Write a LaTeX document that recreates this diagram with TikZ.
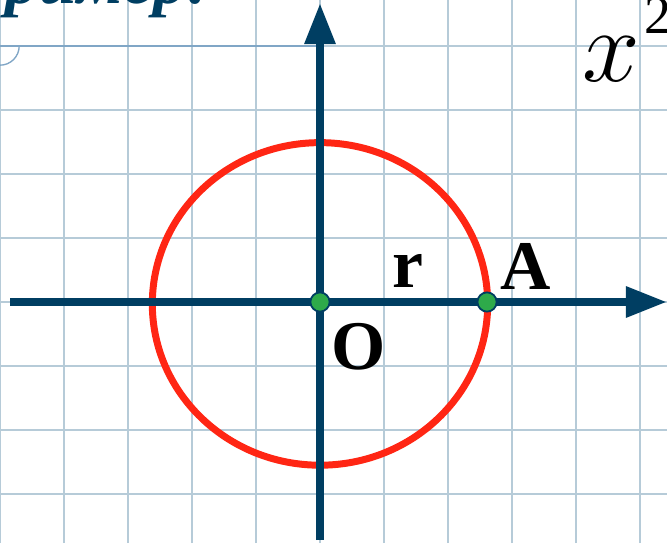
\documentclass[tikz,border=0pt]{standalone}
\usepackage{fontspec}
\setmainfont{Liberation Serif}
\usetikzlibrary{arrows.meta}
\definecolor{axisblue}{RGB}{0, 62, 98}
\definecolor{gridblue}{RGB}{182, 203, 216}
\definecolor{titleline}{RGB}{128, 166, 198}
\definecolor{circred}{RGB}{255, 38, 20}
\definecolor{dotgreen}{RGB}{46, 170, 74}

\begin{document}
\begin{tikzpicture}[
    axis/.style={axisblue, line width=3.5pt, -{Triangle[length=0.64cm, width=0.46cm]}},
    pt/.style={circle, fill=dotgreen, draw=axisblue, line width=0.8pt, inner sep=0pt, minimum size=0.3cm},
    lbl/.style={font=\fontsize{31}{31}\selectfont\bfseries, inner sep=0pt, anchor=base west}
  ]
  \useasboundingbox (-5,-3.7656) rectangle (5.4219,4.7188);
  \clip (-5,-3.7656) rectangle (5.4219,4.7188);

  % squared paper
  \draw[gridblue, line width=0.6pt] (-5,-3.7656) grid (5.4219,4.7188);

  % title strip (cut off at the top)
  \draw[titleline, line width=1.2pt] (-5,4) -- (0,4);
  \draw[titleline, line width=0.6pt] (-5,3.7) arc[start angle=-90, end angle=0, radius=0.3];
  \node[anchor=base east, inner sep=0pt, axisblue, font=\fontsize{30}{30}\selectfont\bfseries\itshape] (title) at (-1.72,4.66) {Пример:};

  % formula (cut off at the right)
  \node[anchor=base west, inner sep=0pt, font=\fontsize{24}{24}\selectfont] (eq) at (4.1,3.44)
    {\scalebox{1.85}{$x$}\hspace{2pt}\raisebox{21.6pt}{\fontsize{24}{24}\selectfont 2}};

  % circle, under the axes
  \draw[circred, line width=3.1pt] (0,-0.03) ellipse[x radius=2.62, y radius=2.52];

  % axes
  \coordinate (xl) at (-4.84,0);
  \coordinate (xr) at (5.42,0);
  \coordinate (yb) at (0,-3.72);
  \coordinate (yt) at (0,4.67);
  \draw[axis] (xl) -- (xr);
  \draw[axis] (yb) -- (yt);

  % points and labels
  \node[pt] (O) at (0,0) {};
  \node[pt] (A) at (2.61,0) {};
  \node[lbl] (Olbl) at (0.17,-1.06) {O};
  \node[lbl] (rlbl) at (1.12,0.23) {r};
  \node[lbl] (Albl) at (2.82,0.19) {A};
\end{tikzpicture}
\end{document}
